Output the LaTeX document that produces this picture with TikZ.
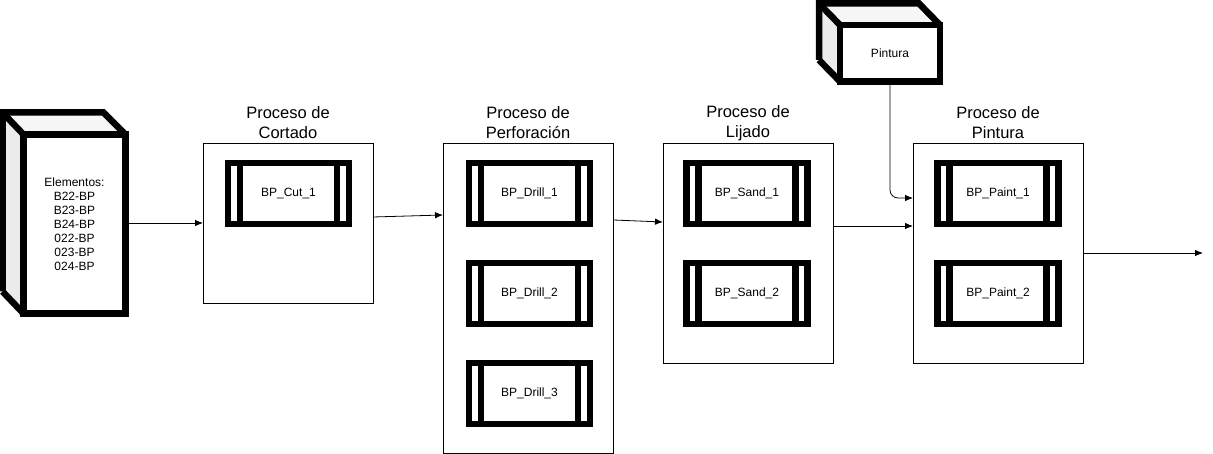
\documentclass[tikz,border=0pt]{standalone}
\usepackage{fontspec}
\setmainfont{Liberation Sans}
\usepackage{tikz}
\usetikzlibrary{calc,arrows.meta}

\begin{document}
\begin{tikzpicture}[x=1pt,y=-1pt,
  proceso/.style={draw,line width=0.8pt,minimum width=170,outer sep=0pt},
  maquina/.style={draw,line width=6.5pt,minimum width=121,minimum height=61,outer sep=0pt,inner sep=0pt,font=\fontsize{12}{14}\selectfont},
  titulo/.style={align=center,inner sep=0pt,font=\fontsize{16.5}{20}\selectfont},
  flecha/.style={->,>={Latex[length=8pt,width=6.5pt]},line width=0.8pt}]

\useasboundingbox (0,0) rectangle (1213,454);

% cubos
\fill[gray!16] (2.5,112.5) -- (23.5,134.5) -- (23.5,313.5) -- (2.5,291.5) -- cycle;
\fill[gray!7] (2.5,112.5) -- (103.5,112.5) -- (125.5,134.5) -- (23.5,134.5) -- cycle;
\draw[line width=6.5pt] (2.5,291.5) -- (2.5,112.5) -- (103.5,112.5) -- (125.5,134.5);
\draw[line width=6.5pt] (2.5,112.5) -- (23.5,134.5);
\draw[line width=6.5pt] (2.5,291.5) -- (23.5,313.5);
\node[draw,line width=6.5pt,minimum width=102,minimum height=179,outer sep=0pt,align=center,
  font=\fontsize{12}{14}\selectfont] (elem) at (74.5,224) {Elementos:\\B22-BP\\B23-BP\\B24-BP\\022-BP\\023-BP\\024-BP};

\fill[gray!16] (819,3.5) -- (840,25) -- (840,81.5) -- (819,60) -- cycle;
\fill[gray!7] (819,3.5) -- (919,3.5) -- (940,25) -- (840,25) -- cycle;
\draw[line width=6.5pt] (819,60) -- (819,3.5) -- (919,3.5) -- (940,25);
\draw[line width=6.5pt] (819,3.5) -- (840,25);
\draw[line width=6.5pt] (819,60) -- (840,81.5);
\node[draw,line width=6.5pt,minimum width=100,minimum height=56.5,outer sep=0pt,
  font=\fontsize{12}{14}\selectfont] (pinc) at (890,53.25) {Pintura};

% procesos
\node[proceso,minimum height=160] (cort) at (288,223) {};
\node[proceso,minimum height=310] (perf) at (528,298) {};
\node[proceso,minimum height=220] (lij) at (748,253) {};
\node[proceso,minimum height=220] (pint) at (998,253) {};

\node[titulo] at (288,123) {Proceso de\\Cortado};
\node[titulo] at (528,123) {Proceso de\\Perforación};
\node[titulo] at (748,123) {Proceso de\\Lijado};
\node[titulo] at (998,123) {Proceso de\\Pintura};

% maquinas
\node[maquina] (cut1) at (288.5,193.5) {BP\_Cut\_1};
\node[maquina] (drill1) at (529.5,193.5) {BP\_Drill\_1};
\node[maquina] (drill2) at (529.5,293.5) {BP\_Drill\_2};
\node[maquina] (drill3) at (529.5,393.5) {BP\_Drill\_3};
\node[maquina] (sand1) at (747,193.5) {BP\_Sand\_1};
\node[maquina] (sand2) at (747,293.5) {BP\_Sand\_2};
\node[maquina] (paint1) at (998,193.5) {BP\_Paint\_1};
\node[maquina] (paint2) at (998,293.5) {BP\_Paint\_2};

\foreach \m in {cut1,drill1,drill2,drill3,sand1,sand2,paint1,paint2}{
  \draw[line width=6.5pt] ($(\m.north west)!0.1!(\m.north east)$) -- ($(\m.south west)!0.1!(\m.south east)$);
  \draw[line width=6.5pt] ($(\m.north east)!0.1!(\m.north west)$) -- ($(\m.south east)!0.1!(\m.south west)$);
}

% flechas
\coordinate (salida) at (1203,253);
\draw[flecha] (elem.east |- cort.west) -- (cort.west);
\draw[flecha] ([yshift=6pt]cort.east) -- ([yshift=83pt]perf.west);
\draw[flecha] ([yshift=78pt]perf.east) -- ([yshift=31pt]lij.west);
\draw[flecha] ([yshift=27pt]lij.east) -- ([yshift=27pt]pint.west);
\draw[flecha,rounded corners=8pt] (pinc.south) |- ([yshift=55pt]pint.west);
\draw[flecha] (pint.east) -- (salida);

\end{tikzpicture}
\end{document}
